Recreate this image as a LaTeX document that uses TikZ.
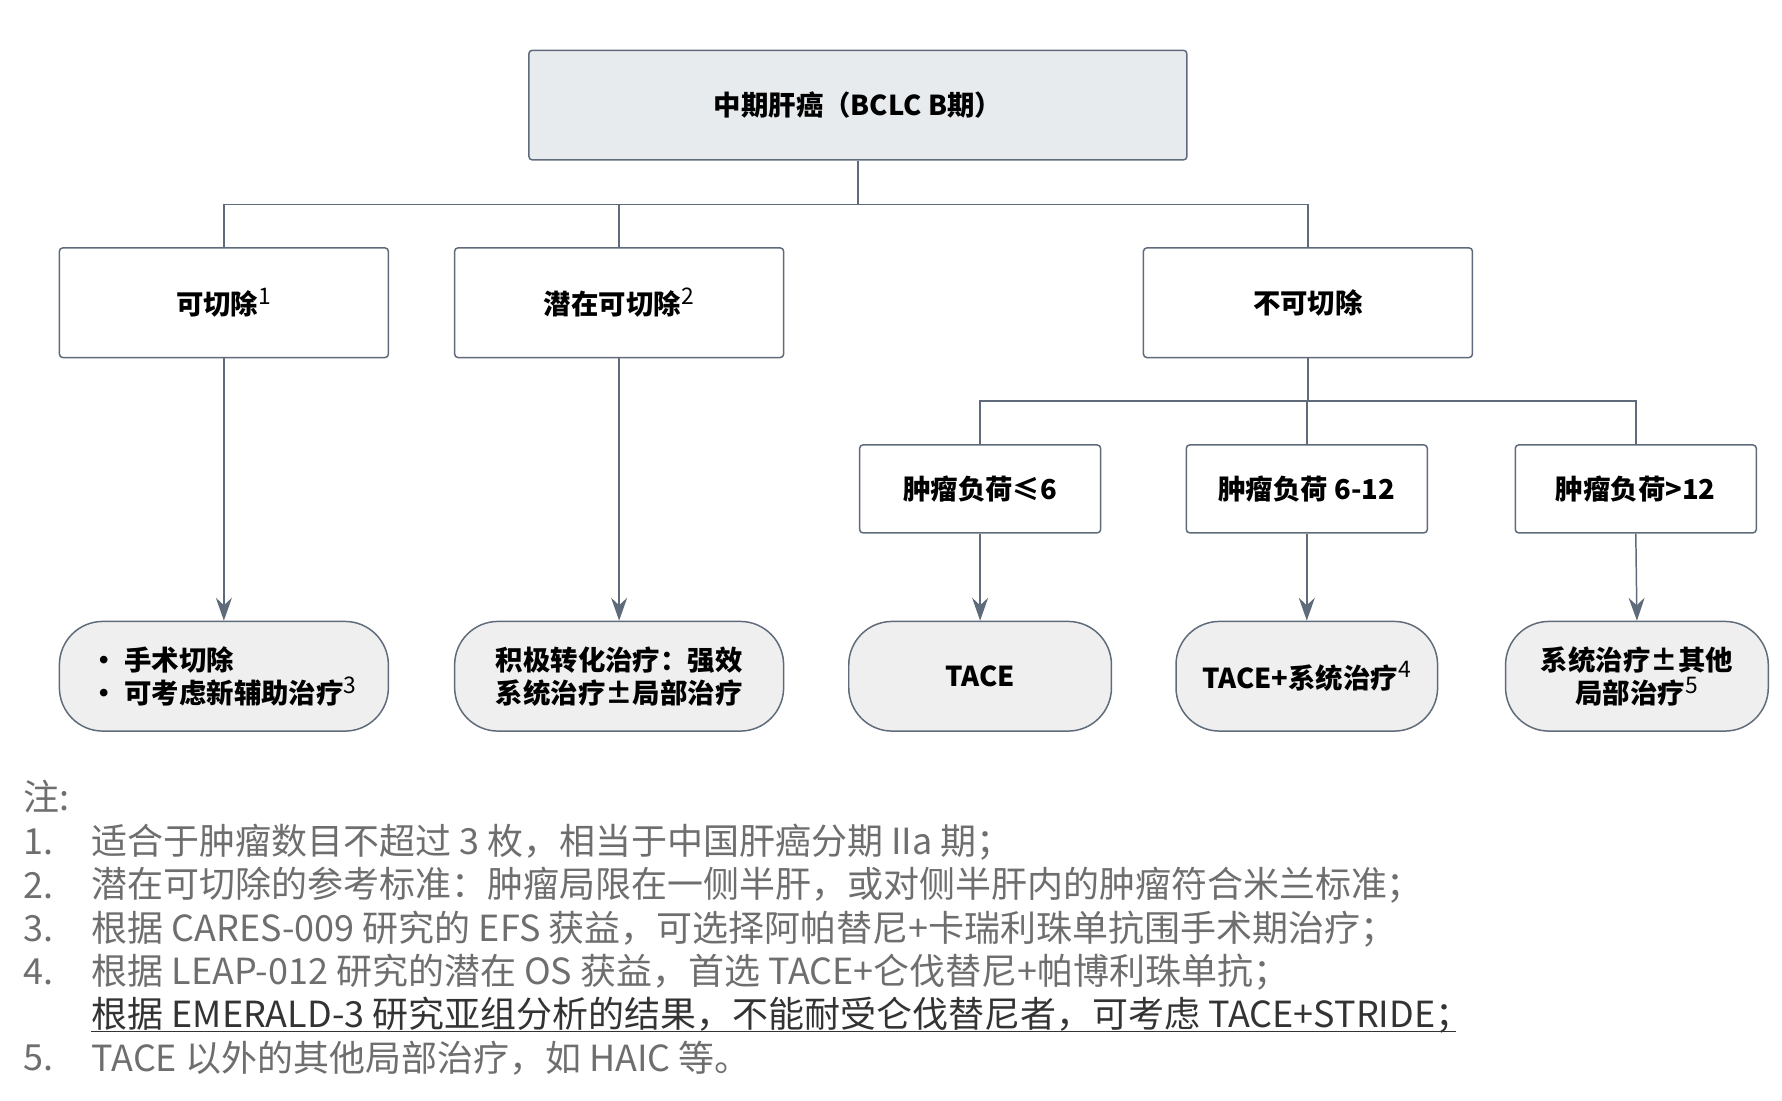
\documentclass[tikz,border=0pt]{standalone}
\usepackage{fontspec}
\setmainfont{Noto Sans CJK SC}
\usetikzlibrary{arrows.meta}
\definecolor{ln}{HTML}{5F6B7A}
\definecolor{fl}{HTML}{E8EBEE}
\definecolor{fl2}{HTML}{EFEFEF}
\definecolor{nt}{HTML}{6E6E6E}
\tikzset{
 box/.style={draw=ln,line width=1.3pt,rounded corners=3pt,fill=white,inner sep=0pt,font=\bfseries\fontsize{24}{29}\selectfont,align=center},
 res/.style={draw=ln,line width=1.3pt,rounded corners=38pt,fill=fl2,inner sep=0pt,font=\bfseries\fontsize{24}{29}\selectfont,align=center},
 con/.style={draw=ln,line width=1.3pt},
 arr/.style={con,-{Stealth[length=20pt,width=14pt]}},
 nt/.style={anchor=west,text=nt,font=\fontsize{31.5}{36}\selectfont,inner sep=0pt}
}
\newcommand{\supn}[1]{\textsuperscript{\mdseries\fontsize{20}{20}\selectfont #1}}
\begin{document}
\begin{tikzpicture}[x=1pt,y=-1pt]
\useasboundingbox (0,0) rectangle (1560,963);
\node[box,fill=fl,minimum width=576,minimum height=96] (top) at (751,92) {中期肝癌（BCLC B期）};
\node[box,minimum width=288,minimum height=96] (a) at (196,265) {可切除\supn{1}};
\node[box,minimum width=288,minimum height=96] (b) at (542,265) {潜在可切除\supn{2}};
\node[box,minimum width=288,minimum height=96] (c) at (1145,265) {不可切除};
\node[box,minimum width=211,minimum height=77] (c1) at (858,428) {肿瘤负荷≤6};
\node[box,minimum width=211,minimum height=77] (c2) at (1144,428) {肿瘤负荷 6-12};
\node[box,minimum width=211,minimum height=77] (c3) at (1432,428) {肿瘤负荷>12};
\node[res,minimum width=288,minimum height=96,align=left] (ra) at (196,592) {· 手术切除\\· 可考虑新辅助治疗\supn{3}};
\node[res,minimum width=288,minimum height=96] (rb) at (542,592) {积极转化治疗：强效\\系统治疗±局部治疗};
\node[res,minimum width=230,minimum height=96] (r1) at (858,592) {TACE};
\node[res,minimum width=229,minimum height=96] (r2) at (1144,592) {TACE+系统治疗\supn{4}};
\node[res,minimum width=230,minimum height=96] (r3) at (1433,592) {系统治疗±其他\\局部治疗\supn{5}};
\coordinate (bus) at (751,179);
\draw[con] (top.south) -- (bus);
\draw[con] (a.north) |- (bus) -| (c.north);
\draw[con] (b.north) -- (b.north |- bus);
\coordinate (bus2) at (1145,351);
\draw[con] (c.south) -- (bus2);
\draw[con] (c1.north) |- (bus2) -| (c3.north);
\draw[con] (c2.north) -- (c2.north |- bus2);
\draw[arr] (a.south) -- (ra.north);
\draw[arr] (b.south) -- (rb.north);
\draw[arr] (c1.south) -- (r1.north);
\draw[arr] (c2.south) -- (r2.north);
\draw[arr] (c3.south) -- (r3.north);
\node[nt] (n0) at (20,697) {注:};
\foreach \y/\n in {737/1.,775/2.,813/3.,851/4.,926/5.}{\node[nt] at (20,\y) {\n};}
\node[nt] (n1) at (80,737) {适合于肿瘤数目不超过 3 枚，相当于中国肝癌分期 IIa 期；};
\node[nt] (n2) at (80,775) {潜在可切除的参考标准：肿瘤局限在一侧半肝，或对侧半肝内的肿瘤符合米兰标准；};
\node[nt] (n3) at (80,813) {根据 CARES-009 研究的 EFS 获益，可选择阿帕替尼+卡瑞利珠单抗围手术期治疗；};
\node[nt] (n4) at (80,851) {根据 LEAP-012 研究的潜在 OS 获益，首选 TACE+仑伐替尼+帕博利珠单抗；};
\node[nt,text=black!80] (n4b) at (80,889) {根据 EMERALD-3 研究亚组分析的结果，不能耐受仑伐替尼者，可考虑 TACE+STRIDE；};
\draw[black!80,line width=1.3pt] ([yshift=2pt]n4b.south west) -- ([xshift=-14pt,yshift=2pt]n4b.south east);
\node[nt] (n5) at (80,926) {TACE 以外的其他局部治疗，如 HAIC 等。};
\end{tikzpicture}
\end{document}
